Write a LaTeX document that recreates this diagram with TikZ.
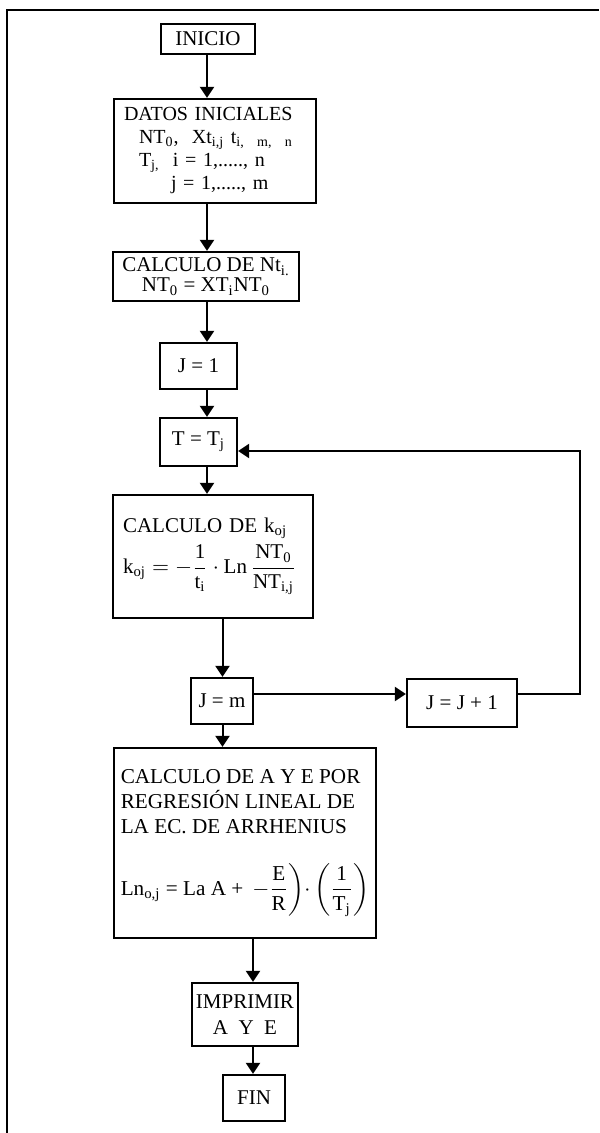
\documentclass[tikz,border=0pt]{standalone}
\usepackage{amsmath}
\usepackage{fontspec}
\setmainfont{Liberation Serif}
\usetikzlibrary{arrows.meta}
\begin{document}
\begin{tikzpicture}[x=0.5pt,y=-0.5pt,
  box/.style={draw, line width=1.1pt, inner sep=0pt, align=center,
    font=\fontsize{10.5}{12.5}\selectfont},
  sz/.style 2 args={minimum width=#1*0.5pt, minimum height=#2*0.5pt},
  arr/.style={line width=1pt, -{Triangle[width=7pt,length=5.5pt]}},
  frameline/.style={line width=1pt}]
\useasboundingbox (0,0) rectangle (599,1133);
\draw[frameline] (7,1133) -- (7,10) -- (599,10);

\node[box, sz={94}{30}] (inicio) at (208,39) {INICIO};
\node[box, sz={202}{104}, text width=91pt, align=left,
  font=\fontsize{10}{11.5}\selectfont] (datos) at (215,151)
  {DATOS INICIALES\\
   \hspace*{7.5pt}NT\textsubscript{0}, \ Xt\textsubscript{i,j} t\textsubscript{i,\ \ m,\ \ n}\\
   \hspace*{7.5pt}T\textsubscript{j,} \ i = 1,....., n\\
   \hspace*{23.5pt}j = 1,....., m};
\node[box, sz={186}{49}, font=\fontsize{10.5}{10}\selectfont] (nt) at (206,276.5)
  {CALCULO DE Nt\textsubscript{i.}\\ NT\textsubscript{0} = XT\textsubscript{i}NT\textsubscript{0}};
\node[box, sz={77}{46}] (j1) at (198.5,366) {J = 1};
\node[box, sz={77}{48}] (ttj) at (198.5,442) {T = T\textsubscript{j}};
\node[box, sz={200}{123}, text width=90pt, align=left] (koj) at (213,556.5)
  {CALCULO DE k\textsubscript{oj}\\[2pt]
   $\text{k}_{\text{oj}} = -\dfrac{\text{1}}{\text{t}_{\text{i}}}\cdot\text{Ln}\,\dfrac{\text{NT}_{\text{0}}}{\text{NT}_{\text{i,j}}}$};
\node[box, sz={62}{46}] (jm) at (222,701) {J = m};
\node[box, sz={110}{48}] (jj1) at (462,703) {J = J + 1};
\node[box, sz={262}{190}, align=left,
  font=\fontsize{10.6}{12.5}\selectfont] (ae) at (245,843)
  {CALCULO DE A Y E POR\\ REGRESIÓN LINEAL DE\\ LA EC. DE ARRHENIUS\\[14pt]
   \mbox{$\text{Ln}_{\text{o,j}}\text{ = La A + }\,{-}\dfrac{\text{E}}{\text{R}}\biggr){\cdot}\left(\dfrac{\text{1}}{\text{T}_{\text{j}}}\right)$}};
\node[box, sz={106}{63}, font=\fontsize{10.5}{13}\selectfont] (imp) at (245,1014.5)
  {IMPRIMIR\\ A\ \ Y\ \ E};
\node[box, sz={62}{46}] (fin) at (254,1098) {FIN};

\coordinate (c1) at (207,0);
\coordinate (c2) at (222.5,0);
\coordinate (c3) at (253,0);
\coordinate (ly) at (0,451);
\coordinate (lm) at (0,694);
\coordinate (lx) at (580,0);

\draw[arr] (inicio.south -| c1) -- (datos.north -| c1);
\draw[arr] (datos.south -| c1) -- (nt.north -| c1);
\draw[arr] (nt.south -| c1) -- (j1.north -| c1);
\draw[arr] (j1.south -| c1) -- (ttj.north -| c1);
\draw[arr] (ttj.south -| c1) -- (koj.north -| c1);
\draw[arr] (koj.south -| c2) -- (jm.north -| c2);
\draw[arr] (jm.south -| c2) -- (ae.north -| c2);
\draw[arr] (ae.south -| c3) -- (imp.north -| c3);
\draw[arr] (imp.south -| c3) -- (fin.north -| c3);
\draw[arr] (jm.east |- lm) -- (jj1.west |- lm);
\draw[arr] (jj1.east |- lm) -| (lx |- ly) -- (ttj.east |- ly);
\end{tikzpicture}
\end{document}
